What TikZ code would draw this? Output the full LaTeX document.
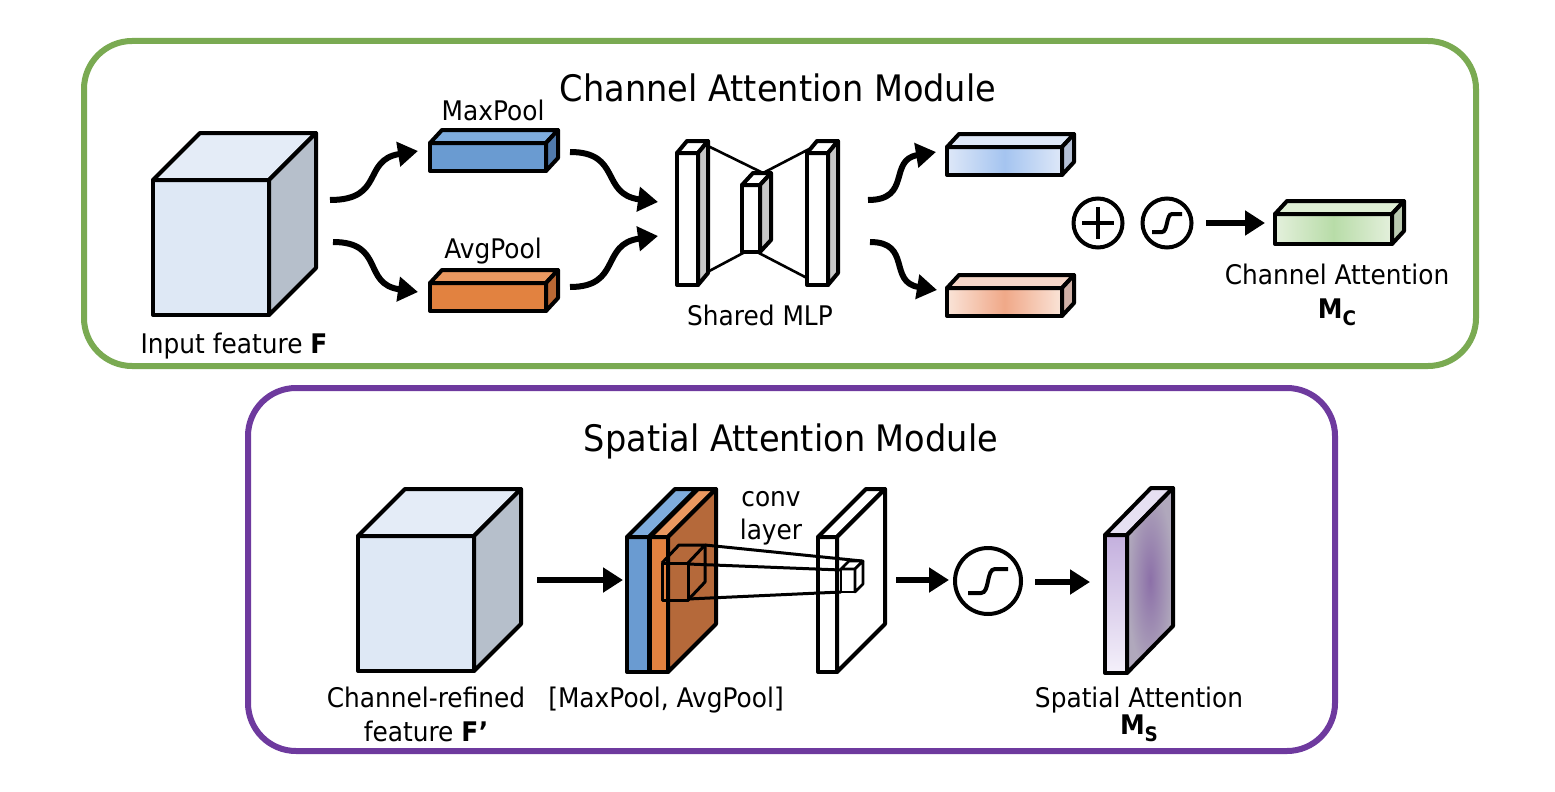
\documentclass[tikz,border=0pt]{standalone}
\usepackage{fontspec}
\setmainfont{DejaVu Sans}[FakeStretch=0.92]
\usetikzlibrary{arrows.meta,calc}
\definecolor{cgreen}{RGB}{122,170,82}
\definecolor{cpurple}{RGB}{110,58,158}
\definecolor{cubefront}{RGB}{222,232,245}
\definecolor{cubetop}{RGB}{228,236,247}
\definecolor{cubeside}{RGB}{182,191,203}
\definecolor{mpfront}{RGB}{106,155,209}
\definecolor{mptop}{RGB}{126,172,221}
\definecolor{mpside}{RGB}{80,122,172}
\definecolor{apfront}{RGB}{226,130,64}
\definecolor{aptop}{RGB}{234,152,96}
\definecolor{apside}{RGB}{186,104,52}
\definecolor{brownside}{RGB}{181,105,58}
\definecolor{mlpside}{RGB}{200,200,200}
\definecolor{bedge}{RGB}{222,232,248}
\definecolor{bmid}{RGB}{165,196,240}
\definecolor{bside}{RGB}{180,192,214}
\definecolor{oedge}{RGB}{250,228,216}
\definecolor{omid}{RGB}{240,168,136}
\definecolor{otop}{RGB}{246,214,200}
\definecolor{oside}{RGB}{208,176,166}
\definecolor{gedge}{RGB}{228,240,220}
\definecolor{gmid}{RGB}{184,220,168}
\definecolor{gside}{RGB}{186,202,176}
\definecolor{gtop}{RGB}{222,238,212}
\definecolor{ptop}{RGB}{196,176,222}
\definecolor{pbot}{RGB}{244,240,250}
\definecolor{pin}{RGB}{140,112,168}
\definecolor{pout}{RGB}{176,168,188}
\definecolor{ptopface}{RGB}{230,224,242}
\newcommand\mycuboid[9]{%
  \path[solidline,#7] (#1,#2) rectangle ++(#3,#4);
  \path[solidline,#8] (#1,#2) -- ++(#5,-#6) -- ++(#3,0) -- ++(-#5,#6) -- cycle;
  \path[solidline,#9] ({#1+#3},#2) -- ++(#5,-#6) -- ++(0,#4) -- ++(-#5,#6) -- cycle;
}
\begin{document}
\begin{tikzpicture}[x=1pt,y=-1pt,
  solidline/.style={draw=black,line width=4pt,line join=round},
  thinline/.style={draw=black,line width=2.6pt,line join=round},
  kline/.style={draw=black,line width=3pt,line join=round},
  sline/.style={draw=black,line width=4pt},
  fatarrow/.style={line width=6pt,-{Triangle[length=20pt,width=24pt]}},
  lbl/.style={font=\fontsize{27}{32}\selectfont,inner sep=0pt,anchor=base},
  ttl/.style={font=\fontsize{36.5}{42}\selectfont,inner sep=0pt,anchor=base},
  frameg/.style={draw=cgreen,line width=6pt,rounded corners=48pt},
  framep/.style={draw=cpurple,line width=6pt,rounded corners=48pt},
  op/.style={circle,draw=black,line width=4pt,fill=white,inner sep=0pt,minimum size=#1}
]
\useasboundingbox (0,0) rectangle (1555,792);
% frames
\draw[frameg] (84,41) rectangle (1476,366);
\draw[framep] (248,388) rectangle (1335,751);
\node[ttl] (t1) at (778,101) {Channel Attention Module};
\node[ttl] (t2) at (791,451) {Spatial Attention Module};

% ---------- channel module ----------
\mycuboid{153}{180}{116}{135}{47}{47}{fill=cubefront}{fill=cubetop}{fill=cubeside}
\node[lbl] (lf) at (234,353) {Input feature \textbf{F}};

\mycuboid{430}{143}{116}{28}{12}{13}{fill=mpfront}{fill=mptop}{fill=mpside}
\mycuboid{430}{283}{116}{28}{12}{13}{fill=apfront}{fill=aptop}{fill=apside}
\node[lbl] (lmp) at (493,120) {MaxPool};
\node[lbl] (lap) at (493,258) {AvgPool};

\coordinate (a1s) at (330,200); \coordinate (a1e) at (418,151);
\coordinate (a2s) at (333,242); \coordinate (a2e) at (418,292);
\draw[fatarrow] (a1s) .. controls (385,200) and (362,160) .. (a1e);
\draw[fatarrow] (a2s) .. controls (385,242) and (362,284) .. (a2e);

\coordinate (b1s) at (570,152); \coordinate (b1e) at (658,202);
\coordinate (b2s) at (570,287); \coordinate (b2e) at (658,236);
\draw[fatarrow] (b1s) .. controls (622,152) and (600,194) .. (b1e);
\draw[fatarrow] (b2s) .. controls (622,287) and (600,244) .. (b2e);

% shared MLP
\draw[thinline] (708,146) -- (763,173) -- (813,147);
\draw[thinline] (698,277) -- (745,252);
\draw[thinline] (757,252) -- (807,278);
\mycuboid{677}{153}{21}{132}{10}{12}{fill=white}{fill=white}{fill=mlpside}
\mycuboid{742}{185}{18}{67}{11}{12}{fill=white}{fill=white}{fill=mlpside}
\mycuboid{807}{153}{21}{132}{10}{12}{fill=white}{fill=white}{fill=mlpside}
\node[lbl] (lmlp) at (760,325) {Shared MLP};

\coordinate (c1s) at (868,200); \coordinate (c1e) at (936,152);
\coordinate (c2s) at (870,242); \coordinate (c2e) at (937,290);
\draw[fatarrow] (c1s) .. controls (912,200) and (888,160) .. (c1e);
\draw[fatarrow] (c2s) .. controls (912,242) and (888,282) .. (c2e);

\mycuboid{947}{147}{115}{28}{12}{13}{left color=bedge,right color=bedge,middle color=bmid}{fill=bedge}{fill=bside}
\mycuboid{947}{288}{115}{28}{12}{13}{left color=oedge,right color=oedge,middle color=omid}{fill=otop}{fill=oside}

\node[op=49pt] (plus) at (1098,223) {};
\draw[sline] ($(plus)+(-16,0)$) -- ($(plus)+(16,0)$);
\draw[sline] ($(plus)+(0,-16)$) -- ($(plus)+(0,16)$);
\node[op=49pt] (sig1) at (1167,223) {};
\draw[sline] ($(sig1)+(-15,9)$) -- ($(sig1)+(-5,9)$) .. controls ($(sig1)+(1,9)$) and ($(sig1)+(-1,-9)$) .. ($(sig1)+(5,-9)$) -- ($(sig1)+(15,-9)$);
\coordinate (d1s) at (1206,223); \coordinate (d1e) at (1265,223);
\draw[fatarrow] (d1s) -- (d1e);

\mycuboid{1275}{214}{117}{30}{12}{13}{left color=gedge,right color=gedge,middle color=gmid}{fill=gtop}{fill=gside}
\node[lbl] (lca) at (1337,284) {Channel Attention};
\node[lbl] (lmc) at (1337,318) {\textbf{M}\raisebox{-0.28em}{\fontsize{20}{20}\selectfont\textbf{C}}};

% ---------- spatial module ----------
\mycuboid{358}{536}{116}{135}{47}{47}{fill=cubefront}{fill=cubetop}{fill=cubeside}
\node[lbl] (lcr1) at (426,707) {Channel-refined};
\node[lbl] (lcr2) at (426,741) {feature \textbf{F’}};

\coordinate (e1s) at (537,580); \coordinate (e1e) at (623,580);
\draw[fatarrow] (e1s) -- (e1e);

\mycuboid{627}{537}{22}{135}{48}{48}{fill=mpfront}{fill=mptop}{fill=mpside}
\mycuboid{650}{537}{18}{135}{48}{48}{fill=apfront}{fill=aptop}{fill=brownside}
\node[lbl] (lpool) at (666,707) {[MaxPool, AvgPool]};

% kernel
\draw[kline] (662,563) rectangle (688,600);
\draw[kline] (662,563) -- (679,545) -- (705,545) -- (688,563);
\draw[kline] (705,545) -- (705,582) -- (688,600);

% conv layer slab
\mycuboid{818}{537}{19}{135}{48}{48}{fill=white}{fill=white}{fill=white}
\draw[kline] (705,545) -- (862,561);
\draw[kline] (688,564) -- (841,570);
\draw[kline] (688,599) -- (841,592);
\begin{scope}[solidline/.style={draw=black,line width=2.6pt,line join=round}]
\mycuboid{841}{569}{14}{23}{8}{8}{fill=white}{fill=white}{fill=white}
\end{scope}
\node[lbl] (lconv1) at (771,506) {conv};
\node[lbl] (lconv2) at (771,539) {layer};

\coordinate (f1s) at (896,580); \coordinate (f1e) at (949,580);
\draw[fatarrow] (f1s) -- (f1e);
\node[op=66pt] (sig2) at (988,581) {};
\draw[sline] ($(sig2)+(-20,12)$) -- ($(sig2)+(-7,12)$) .. controls ($(sig2)+(2,12)$) and ($(sig2)+(-2,-12)$) .. ($(sig2)+(7,-12)$) -- ($(sig2)+(20,-12)$);
\coordinate (g1s) at (1035,582); \coordinate (g1e) at (1090,582);
\draw[fatarrow] (g1s) -- (g1e);

\mycuboid{1105}{535}{22}{138}{46}{47}{top color=ptop,bottom color=pbot}{fill=ptopface}{inner color=pin,outer color=pout}
\node[lbl] (lsa) at (1139,707) {Spatial Attention};
\node[lbl] (lms) at (1139,734) {\textbf{M}\raisebox{-0.28em}{\fontsize{20}{20}\selectfont\textbf{S}}};
\end{tikzpicture}
\end{document}
